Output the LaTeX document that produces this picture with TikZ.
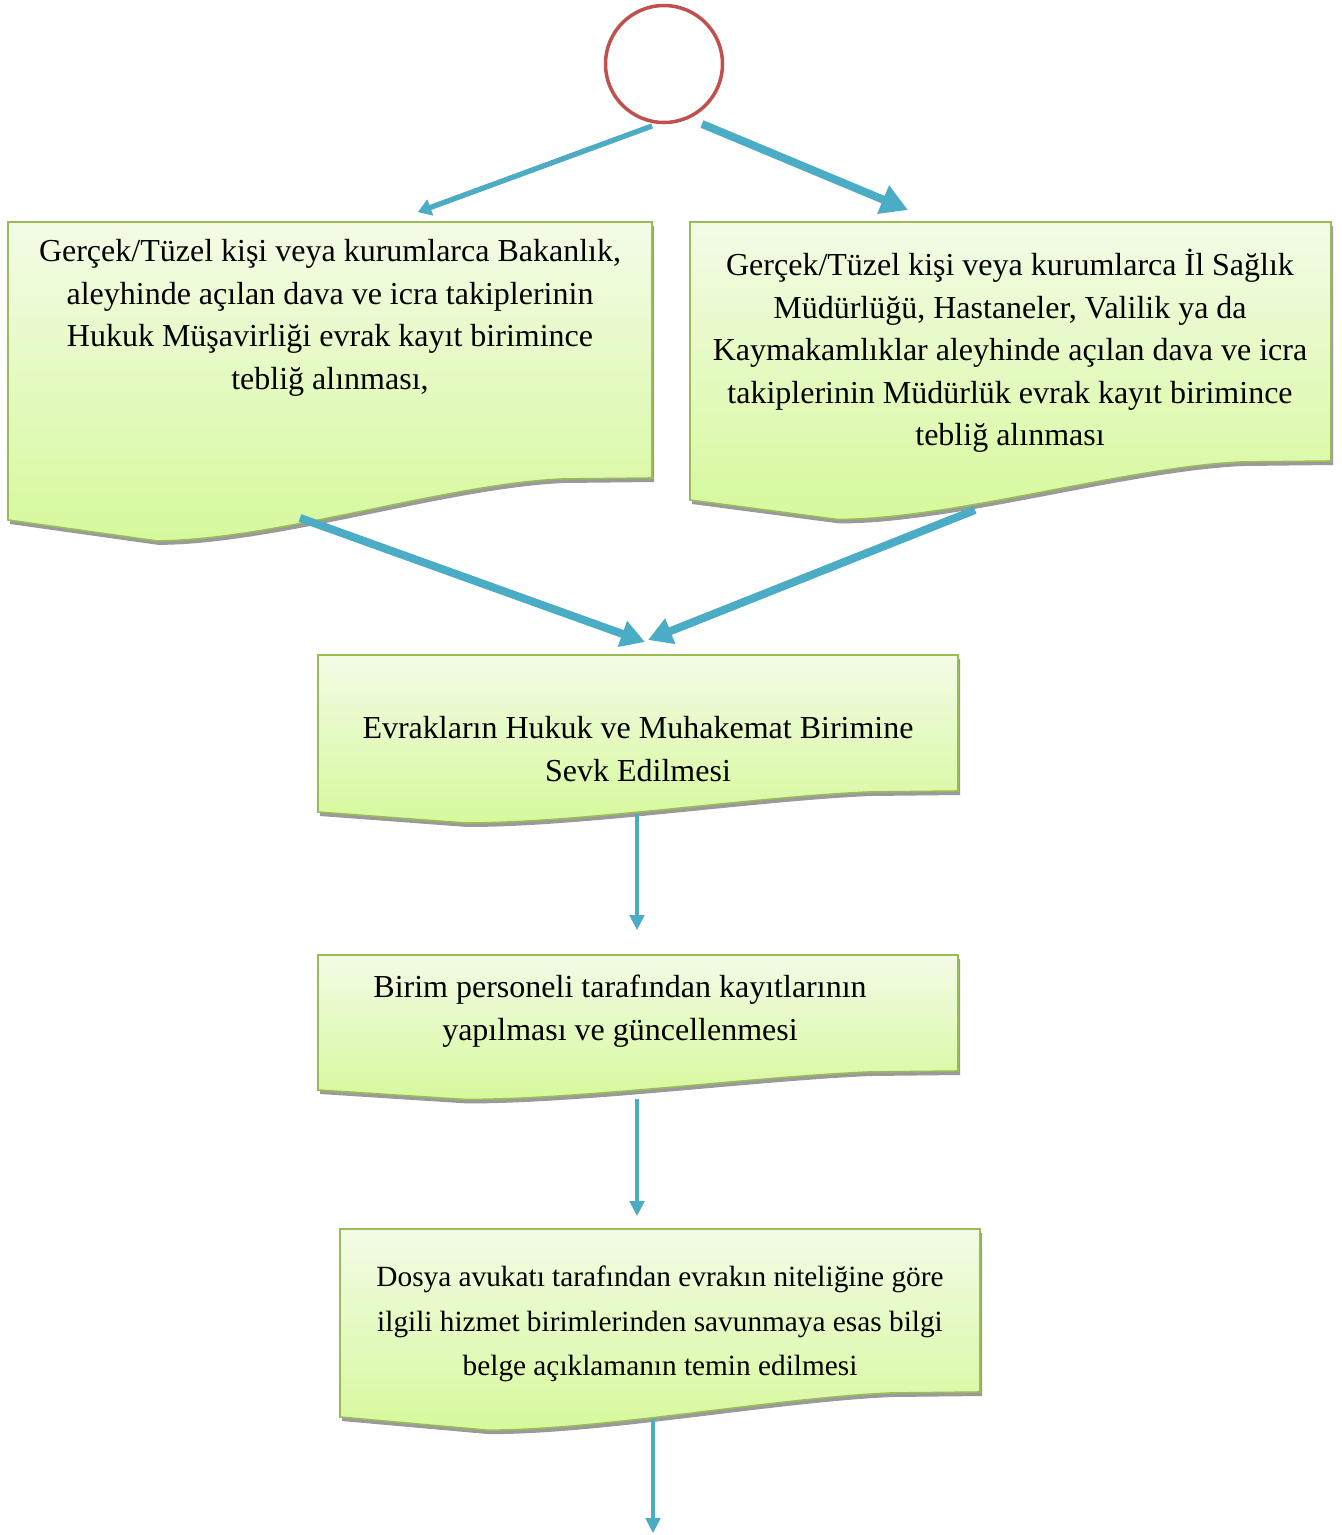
\documentclass[tikz,border=0pt]{standalone}
\usepackage{fontspec}
\setmainfont{Liberation Serif}
\usetikzlibrary{arrows.meta}
\definecolor{flowblue}{HTML}{4BACC6}
\definecolor{docedge}{HTML}{9BBB59}
\definecolor{doctop}{HTML}{F3FBE6}
\definecolor{docbot}{HTML}{D6F99C}
\definecolor{startred}{HTML}{C0504D}
\definecolor{shadowgray}{HTML}{9A9A9A}
\newcommand\docshape[5]{%
  \pgfmathsetmacro\dW{#3-#1}%
  \pgfmathsetmacro\dH{#4-#2}%
  \pgfmathsetmacro\xa{#3-0.14*\dW}%
  \pgfmathsetmacro\ya{#5+1}%
  \pgfmathsetmacro\xm{#1+0.23*\dW}%
  \pgfmathsetmacro\ym{#4+0.07*\dH}%
  \pgfmathsetmacro\ca{#3-0.32*\dW}%
  \pgfmathsetmacro\cay{#5+6}%
  \pgfmathsetmacro\cb{#1+0.41*\dW}%
  \fill[shadowgray,xshift=2pt,yshift=-4pt] (#1,#2) -- (#3,#2) -- (#3,#5) -- (\xa,\ya)
     .. controls (\ca,\cay) and (\cb,\ym) .. (\xm,\ym) -- (#1,#4) -- cycle;
  \draw[docedge,line width=1.6pt,top color=doctop,bottom color=docbot]
     (#1,#2) -- (#3,#2) -- (#3,#5) -- (\xa,\ya)
     .. controls (\ca,\cay) and (\cb,\ym) .. (\xm,\ym) -- (#1,#4) -- cycle;
}
\tikzset{
  doctext/.style={align=center,font=\fontsize{32}{42.5}\selectfont,inner sep=0pt},
  doctextsmall/.style={align=center,font=\fontsize{29.3}{44.5}\selectfont,inner sep=0pt},
  flowthick/.style={flowblue,line width=8pt,-{Triangle[length=27pt,width=29pt]}},
  flowthin/.style={flowblue,line width=4.5pt,-{Triangle[length=15pt,width=14pt]}},
  flowshadow/.style={shadowgray,line width=4.5pt,-{Triangle[length=15pt,width=14pt]}},
}
\begin{document}
\begin{tikzpicture}[x=1pt,y=-1pt]
\useasboundingbox (0,0) rectangle (1342,1535);
\fill[white] (0,0) rectangle (1342,1535);
% start circle
\node[circle,draw=startred,line width=3.5pt,minimum size=117pt,inner sep=0pt] (start) at (664,64) {};
% document shapes
\docshape{8}{222}{652}{520}{478}
\docshape{690}{222}{1331}{500}{461}
\docshape{318}{655}{958}{812}{791}
\docshape{318}{955}{958}{1090}{1071}
\docshape{340}{1229}{980}{1417}{1392}
% texts
\node[doctext] (box1) at (330,318) {Gerçek/Tüzel kişi veya kurumlarca Bakanlık,\\aleyhinde açılan dava ve icra takiplerinin\\Hukuk Müşavirliği evrak kayıt birimince\\tebliğ alınması,};
\node[doctext] (box2) at (1010,351) {Gerçek/Tüzel kişi veya kurumlarca İl Sağlık\\Müdürlüğü, Hastaneler, Valilik ya da\\Kaymakamlıklar aleyhinde açılan dava ve icra\\takiplerinin Müdürlük evrak kayıt birimince\\tebliğ alınması};
\node[doctext] (box3) at (638,749) {Evrakların Hukuk ve Muhakemat Birimine\\Sevk Edilmesi};
\node[doctext] (box4) at (620,1011) {Birim personeli tarafından kayıtlarının\\yapılması ve güncellenmesi};
\node[doctextsmall] (box5) at (660,1324) {Dosya avukatı tarafından evrakın niteliğine göre\\ilgili hizmet birimlerinden savunmaya esas bilgi\\belge açıklamanın temin edilmesi};
% connector end points
\coordinate (tlS) at (652,126);
\coordinate (tlE) at (418,212);
\coordinate (trS) at (702,124);
\coordinate (trE) at (908,210);
\coordinate (mlS) at (300,518);
\coordinate (mlE) at (645,642);
\coordinate (mrS) at (975,510);
\coordinate (mrE) at (648,640);
\coordinate (v1S) at (637,814);
\coordinate (v1E) at (637,930);
\coordinate (v2S) at (637,1099);
\coordinate (v2E) at (637,1216);
\coordinate (v3S) at (653,1419);
\coordinate (v3E) at (653,1533);
% connectors
\draw[shadowgray,line width=5pt,-{Triangle[length=13pt,width=16pt]},xshift=2pt,yshift=-3pt] (tlS) -- (tlE);
\draw[flowblue,line width=5pt,-{Triangle[length=13pt,width=16pt]}] (tlS) -- (tlE);
\draw[flowthick] (trS) -- (trE);
\draw[flowthick,-{Triangle[length=24pt,width=26pt]}] (mlS) -- (mlE);
\draw[flowthick,-{Triangle[length=24pt,width=26pt]}] (mrS) -- (mrE);
\draw[flowshadow,yshift=-3pt] (v1S) -- (v1E);
\draw[flowthin] (v1S) -- (v1E);
\draw[flowshadow,yshift=-3pt] (v2S) -- (v2E);
\draw[flowthin] (v2S) -- (v2E);
\draw[flowshadow,yshift=-3pt] (v3S) -- (v3E);
\draw[flowthin] (v3S) -- (v3E);
\end{tikzpicture}
\end{document}
